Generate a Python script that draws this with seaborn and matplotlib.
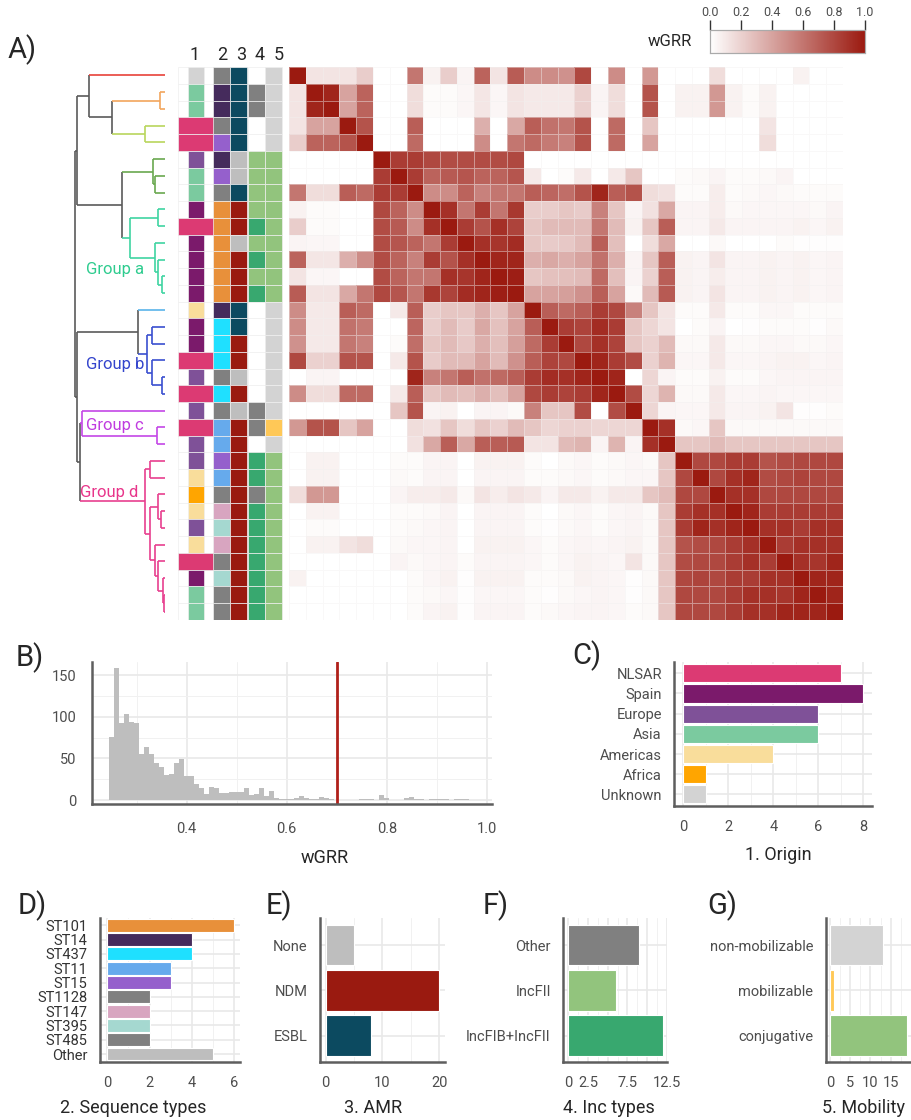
import numpy as np
import matplotlib
matplotlib.use("Agg")
import matplotlib.pyplot as plt
from matplotlib.colors import LinearSegmentedColormap
from matplotlib.ticker import FixedLocator, FixedFormatter
import seaborn as sns

sns.set_theme(style="white")
plt.rcParams["font.family"] = ["Roboto", "DejaVu Sans"]

# ------------------------------------------------------------------ data
# per-plasmid annotations, in dendrogram order (top to bottom)
origin = ["Unknown", "Asia", "Asia", "NLSAR", "NLSAR", "Europe", "Asia", "Asia",
          "Spain", "NLSAR", "Spain", "Spain", "Spain", "Spain", "Americas", "Spain",
          "Spain", "NLSAR", "Europe", "NLSAR", "Europe", "NLSAR", "Europe", "Europe",
          "Americas", "Africa", "Americas", "Europe", "Americas", "NLSAR", "Spain",
          "Asia", "Asia"]
seq_type = ["Other", "ST14", "ST14", "Other", "ST15", "ST14", "ST15", "Other",
            "ST101", "ST101", "ST101", "ST101", "ST101", "ST101", "ST14", "ST437",
            "ST437", "ST437", "Other", "ST437", "Other", "ST11", "ST11", "ST15",
            "ST11", "ST485", "ST147", "ST395", "ST147", "ST485", "ST395", "ST1128",
            "ST1128"]
amr = ["ESBL", "ESBL", "ESBL", "ESBL", "ESBL", "None", "None", "ESBL", "NDM", "NDM",
       "None", "NDM", "NDM", "NDM", "ESBL", "ESBL", "NDM", "NDM", "None", "NDM",
       "None", "NDM", "NDM", "NDM", "NDM", "NDM", "NDM", "NDM", "NDM", "NDM", "NDM",
       "NDM", "NDM"]
inc_type = ["", "Other", "Other", "", "", "IncFII", "IncFII", "IncFII", "IncFII",
            "IncFIB+IncFII", "IncFII", "IncFIB+IncFII", "IncFII", "IncFIB+IncFII",
            "", "", "", "", "", "", "Other", "Other", "", "IncFIB+IncFII",
            "IncFIB+IncFII", "Other", "IncFIB+IncFII", "IncFIB+IncFII",
            "IncFIB+IncFII", "IncFIB+IncFII", "IncFIB+IncFII", "IncFIB+IncFII",
            "IncFIB+IncFII"]
mobility = ["non-mobilizable"] * 5 + ["conjugative"] * 9 + ["non-mobilizable"] * 7 + \
           ["mobilizable", "non-mobilizable"] + ["conjugative"] * 10

# pairwise wGRR, lower triangle (row i holds columns 1..i)
wgrr_lower = [
    [1.0],
    [.12, 1.0],
    [.12, .95, 1.0],
    [.12, .40, .40, 1.0],
    [.22, .68, .68, .75, 1.0],
    [0, 0, 0, 0, 0, 1.0],
    [0, 0, 0, 0, 0, .85, 1.0],
    [.60, .15, .15, .70, .65, .85, .85, 1.0],
    [.06, .02, .02, 0, 0, .80, .68, .50, 1.0],
    [.22, .02, .02, 0, 0, .78, .72, .50, .90, 1.0],
    [.05, .04, .04, 0, 0, .78, .74, .68, .60, .85, 1.0],
    [.68, .11, .11, .35, .50, .78, .68, .55, .85, .75, .90, 1.0],
    [.12, .04, .04, 0, 0, .78, .68, .60, .60, .90, .88, .95, 1.0],
    [.71, .12, .12, .38, .60, .80, .74, .60, .87, .82, .92, .95, .98, 1.0],
    [.50, .10, .10, .70, .65, 0, .10, .70, .22, .25, .25, .35, .25, .40, 1.0],
    [.50, .10, .10, .62, .58, 0, 0, .67, .22, .30, .23, .38, .27, .40, .70, 1.0],
    [.48, .10, .10, .60, .55, 0, .02, .63, .25, .30, .24, .35, .28, .42, .65, .85, 1.0],
    [.80, .20, .20, .75, .75, 0, .10, .75, .23, .30, .30, .40, .30, .48, .70, .82, .80, 1.0],
    [0, .05, .05, 0, 0, 0, 0, .95, .55, .60, .70, .62, .65, .70, .85, .92, .90, .95, 1.0],
    [.50, .15, .15, .65, .65, 0, .10, .70, .25, .30, .28, .35, .28, .40, .80, .85, .82,
     .85, .95, 1.0],
    [0, 0, 0, 0, 0, 0, .25, .75, .05, .06, 0, .05, .05, .03, .55, .25, .25, .78, 0, .78,
     1.0],
    [.45, .75, .75, .25, .40, 0, 0, .15, .13, .25, .15, .25, .20, .30, .25, .18, .20, .20,
     .18, .18, .18, 1.0],
    [0, 0, 0, 0, 0, 0, 0, .13, .38, .70, .38, .70, .70, .72, .12, .12, .30, .33, .05, .33,
     .05, .90, 1.0],
    [0, .06, .06, 0, 0, 0, .02, .02, .05, .05, 0, .06, .06, .06, .02, 0, .03, .04, .02,
     .03, .04, .03, .25, 1.0],
    [0, .06, .06, 0, 0, 0, .03, .02, .05, .05, 0, .05, .05, .05, .02, .02, .03, .04, .02,
     .03, .04, .04, .25, .80, 1.0],
    [.15, .45, .45, 0, 0, 0, .05, .08, .08, .10, .03, .12, .08, .12, .10, .05, .10, .10,
     .06, .10, .10, .25, .30, .80, .80, 1.0],
    [0, .06, .06, 0, 0, 0, .02, .02, .03, .05, 0, .05, .05, .05, .02, 0, .03, .04, .02,
     .04, .05, .03, .25, .85, .90, .90, 1.0],
    [0, .02, .02, 0, 0, 0, .02, .03, .04, .05, 0, .05, .05, .05, .02, .01, .03, .04, .02,
     .04, .05, .03, .25, .85, .95, .90, .95, 1.0],
    [0, .06, .06, .12, .15, 0, .03, .04, .04, .05, 0, .06, .06, .06, .04, .02, .04, .05,
     .04, .05, .06, .03, .25, .75, .78, .80, .85, .90, 1.0],
    [0, 0, 0, 0, 0, 0, .05, .03, .04, .05, .02, .05, .05, .05, .04, .02, .04, .06, .05,
     .04, .12, .03, .25, .78, .80, .80, .85, .90, .85, 1.0],
    [.06, 0, 0, 0, 0, 0, 0, .02, .04, .06, .01, .06, .06, .06, .02, .02, .03, .06, .05,
     .04, .01, .03, .25, .80, .82, .80, .85, .85, .90, .90, 1.0],
    [0, 0, 0, 0, 0, 0, 0, .02, .03, .04, .01, .04, .04, .04, .02, .01, .03, .04, .05, .04,
     .01, .03, .25, .80, .80, .80, .85, .90, .90, .88, .95, 1.0],
    [0, 0, 0, 0, 0, 0, 0, .02, .05, .06, .01, .05, .05, .05, .02, .03, .04, .05, .05, .04,
     .02, .03, .25, .80, .80, .80, .85, .90, .90, .95, .95, .95, 1.0],
]

# dendrogram: (left child, right child, merge height); ids >= 33 refer to earlier merges
merges = [
    (1, 2, 0.055), (3, 4, 0.22), (33, 34, 0.59), (0, 35, 0.84),
    (6, 7, 0.11), (5, 37, 0.137),
    (8, 9, 0.08), (12, 13, 0.03), (11, 40, 0.08), (10, 41, 0.11), (39, 42, 0.39),
    (38, 43, 0.48),
    (15, 16, 0.15), (18, 19, 0.03), (17, 46, 0.15), (45, 47, 0.20), (14, 48, 0.30),
    (21, 22, 0.09), (20, 50, 0.92),
    (23, 24, 0.17), (26, 27, 0.05), (25, 53, 0.08), (31, 32, 0.01), (30, 55, 0.025),
    (29, 56, 0.08), (28, 57, 0.11), (54, 58, 0.17), (52, 59, 0.22),
    (51, 60, 0.95), (36, 44, 0.98), (49, 61, 0.98), (62, 63, 1.0),
]
merge_clade = ["orange", "lime", "trunk", "trunk", "green", "green",
               "a", "a", "a", "a", "a", "trunk",
               "b", "b", "b", "b", "trunk", "c", "c",
               "d", "d", "d", "d", "d", "d", "d", "d", "d",
               "trunk", "trunk", "trunk", "trunk"]
leaf_clade = ["red", "orange", "orange", "lime", "lime", "green", "green", "green",
              "a", "a", "a", "a", "a", "a", "b_leaf", "b", "b", "b", "b", "b",
              "c", "c", "c"] + ["d"] * 10
group_labels = ["Group a", "Group b", "Group c", "Group d"]
group_label_rows = [12.1, 17.75, 21.4, 25.4]

# histogram of all pairwise wGRR values (bins of width 0.01 starting at 0.25)
hist_counts = [76, 159, 93, 103, 94, 92, 55, 64, 55, 45, 40, 30, 31, 45, 49, 29, 29,
               19, 15, 7, 16, 15, 8, 9, 10, 10, 10, 14, 6, 7, 15, 5, 11, 3, 1, 1, 1,
               2, 5, 2, 1, 1, 4, 3, 1, 0, 0, 0, 0, 0, 1, 1, 1, 0, 6, 2, 0, 0, 0, 2,
               4, 1, 1, 0, 1, 1, 1, 1, 0, 1, 1, 1, 0]
hist_start, hist_bin = 0.25, 0.01
wgrr_threshold = 0.7

origin_cats = ["NLSAR", "Spain", "Europe", "Asia", "Americas", "Africa", "Unknown"]
origin_counts = [7, 8, 6, 6, 4, 1, 1]
st_cats = ["ST101", "ST14", "ST437", "ST11", "ST15", "ST1128", "ST147", "ST395",
           "ST485", "Other"]
st_counts = [6, 4, 4, 3, 3, 2, 2, 2, 2, 5]
amr_cats = ["None", "NDM", "ESBL"]
amr_counts = [5, 20, 8]
inc_cats = ["Other", "IncFII", "IncFIB+IncFII"]
inc_counts = [9, 6, 12]
mob_cats = ["non-mobilizable", "mobilizable", "conjugative"]
mob_counts = [13, 1, 19]

# ------------------------------------------------------------------ colours
origin_pal = {"NLSAR": "#dc3a73", "Spain": "#7b1a6b", "Europe": "#7f5198",
              "Asia": "#7bca9f", "Americas": "#f9dd9b", "Africa": "#ffa500",
              "Unknown": "#d3d3d3"}
st_pal = {"ST101": "#e8903a", "ST14": "#452b5c", "ST437": "#1fe0ff",
          "ST11": "#66aaec", "ST15": "#9560cc", "ST1128": "#808080",
          "ST147": "#d8a5c0", "ST395": "#a5d8d0", "ST485": "#808080",
          "Other": "#bebebe"}
st_strip_pal = dict(st_pal, Other="#808080")
amr_pal = {"None": "#bebebe", "NDM": "#9a1a10", "ESBL": "#0c4a60"}
inc_pal = {"Other": "#808080", "IncFII": "#92c47d", "IncFIB+IncFII": "#38a86f",
           "": "#ffffff"}
mob_pal = {"non-mobilizable": "#d3d3d3", "mobilizable": "#ffc857",
           "conjugative": "#92c47d"}
clade_pal = {"red": "#e8423a", "orange": "#f2a55c", "lime": "#b9d65c",
             "green": "#6aa84f", "a": "#3fd4a2", "b_leaf": "#5ab4ea",
             "b": "#3a4fd0", "c": "#c447e6", "d": "#e8408f", "trunk": "#5a5a5a"}
group_text_pal = ["#2ecc8f", "#3344cc", "#c03ce0", "#e8358a"]

GRID = "#e9e9e9"
TICK = "#4d4d4d"

# ------------------------------------------------------------------ figure
W, H = 912, 1120
fig = plt.figure(figsize=(W / 100, H / 100), dpi=100)
fig.patch.set_facecolor("white")


def px_axes(x0, y0, x1, y1):
    return fig.add_axes([x0 / W, 1 - y1 / H, (x1 - x0) / W, (y1 - y0) / H])


n = len(origin)

# ---- A) heatmap
wgrr = np.zeros((n, n))
for i, row in enumerate(wgrr_lower):
    wgrr[i, :len(row)] = row
wgrr = np.maximum(wgrr, wgrr.T)

cmap = LinearSegmentedColormap.from_list("wgrr", ["#ffffff", "#9b1a10"])
ax_hm = px_axes(289, 67, 843, 620)
cax = px_axes(710, 30, 865, 53)
sns.heatmap(wgrr, ax=ax_hm, cmap=cmap, vmin=0, vmax=1, cbar_ax=cax,
            cbar_kws={"orientation": "horizontal",
                      "ticks": [0, 0.2, 0.4, 0.6, 0.8, 1.0]},
            xticklabels=False, yticklabels=False,
            linewidths=0.6, linecolor=(0.95, 0.94, 0.94, 0.45))
cax.xaxis.set_ticks_position("top")
cax.xaxis.set_major_formatter(FixedFormatter(["0.0", "0.2", "0.4", "0.6", "0.8", "1.0"]))
cax.tick_params(axis="x", length=7, width=1, color="#333333", labelsize=9,
                labelcolor=TICK, pad=1)
for s in cax.spines.values():
    s.set_visible(True)
    s.set_color("#aaaaaa")
    s.set_linewidth(0.8)
fig.text(670 / W, 1 - 41 / H, "wGRR", fontsize=12, ha="center", va="center")

# ---- dendrogram
ax_dg = px_axes(70, 67, 166, 620)
ax_dg.set_xlim(1.056, -0.011)
ax_dg.set_ylim(n, 0)
ax_dg.axis("off")
ypos = {i: i + 0.5 for i in range(n)}
hgt = {i: 0.0 for i in range(n)}
colr = {i: clade_pal[leaf_clade[i]] for i in range(n)}
for k, (a, b, h) in enumerate(merges):
    c = clade_pal[merge_clade[k]]
    ax_dg.plot([h, h], [ypos[a], ypos[b]], color=c, lw=1.2, solid_capstyle="butt")
    for ch in (a, b):
        ax_dg.plot([h, hgt[ch]], [ypos[ch], ypos[ch]], color=colr[ch], lw=1.2,
                   solid_capstyle="butt")
    node = n + k
    ypos[node] = (ypos[a] + ypos[b]) / 2
    hgt[node] = h
    colr[node] = c
for lab, yr, tc in zip(group_labels, group_label_rows, group_text_pal):
    bbox = dict(facecolor="white", edgecolor="none", pad=0.5) if lab == "Group c" else None
    ax_dg.text(0.88 if lab != "Group d" else 0.94, yr, lab, color=tc, fontsize=12,
               ha="left", va="center", bbox=bbox)

# ---- annotation strips
ax_st = px_axes(175, 67, 285, 620)
ax_st.set_xlim(-1.25, 5.30)
ax_st.set_ylim(n, 0)
ax_st.axis("off")
rows = np.arange(n) + 0.5
centers = [0.0, 1.53, 2.55, 3.58, 4.60]
cw = 1.0
edge = dict(edgecolor="#efefef", linewidth=0.5)
ax_st.barh(rows, [2.1] * n, left=-1.05, height=1.0, color="white", **edge)
col1_w = [2.1 if o == "NLSAR" else cw for o in origin]
ax_st.barh(rows, col1_w, left=[-w / 2 for w in col1_w], height=1.0,
           color=[origin_pal[o] for o in origin], **edge)
strip_cols = [[st_strip_pal[s] for s in seq_type],
              [amr_pal[a] for a in amr],
              [inc_pal[t] for t in inc_type],
              [mob_pal[m] for m in mobility]]
for cx, cols in zip(centers[1:], strip_cols):
    ax_st.barh(rows, [cw] * n, left=cx - cw / 2, height=1.0, color=cols, **edge)
header_x = [-0.06, 1.57, 2.68, 3.81, 4.94]
for k, hx in enumerate(header_x):
    ax_st.text(hx, -0.72, str(k + 1), fontsize=13, ha="center", va="center")


# ------------------------------------------------------------------ panel styling
def style_panel(ax):
    ax.set_facecolor("white")
    ax.set_axisbelow(True)
    ax.grid(True, which="major", color=GRID, lw=1.2)
    ax.grid(True, which="minor", axis="x", color="#f1f1f1", lw=0.7)
    for s in ("top", "right"):
        ax.spines[s].set_visible(False)
    for s in ("left", "bottom"):
        ax.spines[s].set_visible(True)
        ax.spines[s].set_color("#5e5e5e")
        ax.spines[s].set_linewidth(1.8)
    ax.tick_params(axis="both", which="both", length=0, labelsize=10.5,
                   labelcolor=TICK)
    ax.tick_params(axis="y", pad=9)
    ax.tick_params(axis="x", pad=10)
    ax.set_xlabel("")
    ax.set_ylabel("")


# ---- B) histogram
ax_b = px_axes(91.7, 661.7, 491.7, 804)
bin_centers = [hist_start + hist_bin * i for i in range(len(hist_counts))]
edges_lo = hist_start - hist_bin / 2
sns.histplot(x=bin_centers, weights=hist_counts, binwidth=hist_bin,
             binrange=(edges_lo, edges_lo + hist_bin * len(hist_counts)),
             color="#bebebe", alpha=1, linewidth=0, ax=ax_b)
ax_b.axvline(wgrr_threshold, color="#b0201a", lw=2)
ax_b.set_xlim(0.21, 1.01)
ax_b.set_ylim(-4.8, 166)
style_panel(ax_b)
ax_b.xaxis.set_major_locator(FixedLocator([0.4, 0.6, 0.8, 1.0]))
ax_b.xaxis.set_minor_locator(FixedLocator([0.3, 0.5, 0.7, 0.9]))
ax_b.xaxis.set_major_formatter(FixedFormatter(["0.4", "0.6", "0.8", "1.0"]))
ax_b.yaxis.set_major_locator(FixedLocator([0, 50, 100, 150]))
ax_b.yaxis.set_minor_locator(FixedLocator([25, 75, 125]))
ax_b.yaxis.set_major_formatter(FixedFormatter(["0", "50", "100", "150"]))
ax_b.grid(True, which="minor", axis="y", color="#f1f1f1", lw=0.7)
ax_b.tick_params(axis="x", pad=13)
ax_b.tick_params(axis="y", pad=11)
fig.text(325 / W, 1 - 858 / H, "wGRR", fontsize=13, ha="center", va="center")


def hbar(ax, cats, vals, pal, xlim, ylim, major, minor, labels):
    sns.barplot(x=vals, y=cats, hue=cats, palette=pal, order=cats, hue_order=cats,
                legend=False, orient="h", width=0.9, saturation=1,
                edgecolor="white", linewidth=0.8, ax=ax)
    ax.set_xlim(*xlim)
    ax.set_ylim(*ylim)
    ax.xaxis.set_major_locator(FixedLocator(major))
    ax.xaxis.set_minor_locator(FixedLocator(minor))
    ax.xaxis.set_major_formatter(FixedFormatter(labels))
    style_panel(ax)


# ---- C) origin
ax_c = px_axes(674.3, 661.7, 872, 805.7)
hbar(ax_c, origin_cats, origin_counts, origin_pal, (-0.4, 8.38), (6.56, -0.575),
     [0, 2, 4, 6, 8], [1, 3, 5, 7], ["0", "2", "4", "6", "8"])
fig.text(778 / W, 1 - 855 / H, "1. Origin", fontsize=13, ha="center", va="center")

# ---- D) sequence types
ax_d = px_axes(100, 918.3, 240, 1062.3)
hbar(ax_d, st_cats, st_counts, st_pal, (-0.345, 6.27), (9.58, -0.49),
     [0, 2, 4, 6], [1, 3, 5], ["0", "2", "4", "6"])
ax_d.tick_params(axis="y", labelcolor="#333333")
fig.text(133 / W, 1 - 1108 / H, "2. Sequence types", fontsize=13, ha="center",
         va="center")

# ---- E) AMR
ax_e = px_axes(320, 918.3, 445, 1062.3)
hbar(ax_e, amr_cats, amr_counts, amr_pal, (-1.0, 21.0), (2.59, -0.59),
     [0, 10, 20], [5, 15], ["0", "10", "20"])
fig.text(373 / W, 1 - 1108 / H, "3. AMR", fontsize=13, ha="center", va="center")

# ---- F) Inc types
ax_f = px_axes(563.3, 918.3, 667.3, 1062.3)
hbar(ax_f, inc_cats, inc_counts, inc_pal, (-0.64, 12.58), (2.59, -0.59),
     [0, 2.5, 5, 7.5, 10, 12.5], [1.25, 3.75, 6.25, 8.75, 11.25],
     ["0", "2.5", "", "7.5", "", "12.5"])
fig.text(609 / W, 1 - 1108 / H, "4. Inc types", fontsize=13, ha="center", va="center")

# ---- G) mobility
ax_g = px_axes(826, 918.3, 915, 1062.3)
hbar(ax_g, mob_cats, mob_counts, mob_pal, (-1.0, 21.0), (2.59, -0.59),
     [0, 5, 10, 15], [2.5, 7.5, 12.5, 17.5, 20], ["0", "5", "10", "15"])
fig.text(864 / W, 1 - 1108 / H, "5. Mobility", fontsize=13, ha="center", va="center")

# ---- panel letters
for letter, (lx, ly) in {"A)": (8, 50), "B)": (16, 658), "C)": (572, 656),
                         "D)": (18, 906), "E)": (266, 906), "F)": (483, 906),
                         "G)": (707, 906)}.items():
    fig.text(lx / W, 1 - ly / H, letter, fontsize=21, ha="left", va="center")

fig.savefig("out.png", dpi=100, facecolor="white")
